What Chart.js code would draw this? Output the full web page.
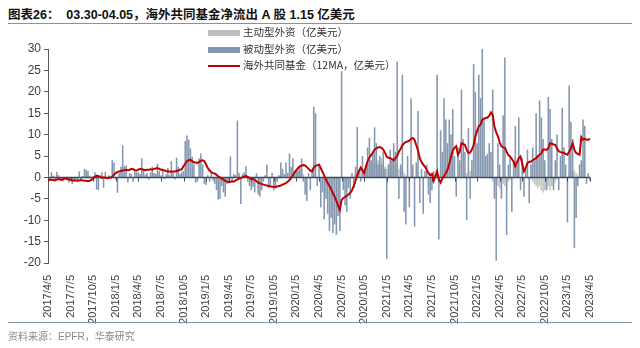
<!DOCTYPE html>
<html>
<head>
<meta charset="utf-8">
<script src="https://cdn.jsdelivr.net/npm/chart.js@4.4.1/dist/chart.umd.min.js"></script>
<style>
  body { margin: 0; width: 640px; height: 348px; background: #fff; position: relative; overflow: hidden;
         font-family: "Liberation Sans", "Noto Sans CJK SC", sans-serif; }
  #title { position: absolute; left: 8px; top: 4px; font-size: 12.5px; font-weight: bold; color: #111; white-space: pre; }
  .rule { position: absolute; left: 8px; width: 624px; height: 1px; background: #8393aa; }
  #source { position: absolute; left: 8px; top: 328px; font-size: 10px; color: #8a8a8a; }
  #chart { position: absolute; left: 0; top: 0; }
  .lg { position: absolute; left: 208px; font-size: 10.5px; color: #333; white-space: nowrap;
        font-family: "Noto Sans CJK SC", "Liberation Sans", sans-serif; line-height: 12px; }
  .lg i { display: inline-block; width: 32px; vertical-align: middle; margin-right: 3px; }
</style>
</head>
<body>
<div id="title">图表26：  03.30-04.05，海外共同基金净流出 A 股 1.15 亿美元</div>
<div class="rule" style="top:23px"></div>
<canvas id="chart" width="640" height="348"></canvas>
<div class="lg" style="top:26px"><i style="height:6px;background:#bfbfbf"></i>主动型外资（亿美元）</div>
<div class="lg" style="top:43px"><i style="height:6px;background:#8497b0"></i>被动型外资（亿美元）</div>
<div class="lg" style="top:59px"><i style="height:2px;background:#c00000"></i>海外共同基金（12MA，亿美元）</div>
<div class="rule" style="top:322px"></div>
<div id="source">资料来源：EPFR，华泰研究</div>

<script>
// 周度数据，2017/4/5 ~ 2023/4/5，每行一个季度（13 周）
const quarterLabels = ['2017/4/5','2017/7/5','2017/10/5','2018/1/5','2018/4/5','2018/7/5','2018/10/5',
  '2019/1/5','2019/4/5','2019/7/5','2019/10/5','2020/1/5','2020/4/5','2020/7/5','2020/10/5',
  '2021/1/5','2021/4/5','2021/7/5','2021/10/5','2022/1/5','2022/4/5','2022/7/5','2022/10/5',
  '2023/1/5','2023/4/5'];

// 被动型外资（亿美元）
const passive = [
  0.5,-0.3,1.2,0.4,-0.5,1.3,0.6,-0.6,-0.4,-0.9,-0.5,-0.7,-1.2,
  -0.5,-1.5,-0.8,-0.3,-1.0,1.4,-0.5,0.3,2.0,1.8,1.5,0.4,-0.6,
  0.3,1.2,-2.8,-3.0,0.5,1.2,-2.4,1.3,-0.4,0.5,0.2,4.0,3.4,
  -0.5,-3.6,1.0,2.5,7.5,2.7,2.8,-1.2,1.0,0.8,-1.0,1.5,1.2,
  1.2,0.8,4.5,2.0,0.6,1.0,-0.5,1.2,2.5,1.0,0.8,3.2,1.5,
  0.5,2.0,-0.4,0.7,2.2,0.5,3.8,1.0,-0.5,4.6,2.5,0.8,1.2,
  1.5,8.5,9.8,8.8,6.8,4.8,3.0,-1.2,-1.0,4.5,5.6,3.0,-1.5,
  -1.8,0.5,-1.0,1.0,-0.8,-1.5,-3.0,-5.2,-5.0,-2.0,-3.5,-4.5,-1.5,
  -1.2,4.9,-1.0,0.8,0.5,13.3,1.0,-6.2,0.8,1.2,2.6,-1.0,-2.0,
  -3.0,-2.2,-3.5,1.0,-4.0,-4.5,-3.0,-1.0,0.5,3.0,-2.5,-2.0,1.0,
  -3.0,-2.0,-1.0,0.5,3.5,2.0,0.8,3.5,1.0,5.6,2.5,4.5,1.5,
  2.0,1.5,2.5,4.4,-1.0,-4.0,-5.5,1.0,-3.0,2.0,16.5,15.0,-2.0,
  2.5,-7.0,-3.5,-9.8,-5.0,-8.5,-12.5,-9.5,-13.0,-11.0,-13.4,-9.0,-12.5,
  24.8,-3.0,-6.5,-8.0,-2.5,-5.0,1.0,-2.5,2.5,11.8,1.5,-1.0,5.0,
  2.0,3.0,7.0,9.2,4.0,6.0,11.7,8.0,3.0,5.0,3.0,6.0,2.0,
  -19.0,3.0,6.5,4.0,8.0,6.0,27.0,-5.0,3.0,24.0,-8.0,-11.0,5.0,
  -7.0,18.5,3.0,-11.5,3.5,15.5,-6.0,2.0,-8.5,1.5,3.0,-4.0,-6.0,
  -3.0,1.5,0.5,24.0,-14.5,11.0,6.0,18.5,13.5,8.0,13.5,10.0,16.0,
  5.0,-4.5,7.0,4.0,20.5,9.0,6.0,-10.0,11.5,-5.0,4.0,26.5,20.0,
  8.0,24.0,18.5,30.5,13.5,5.0,5.5,8.0,6.0,20.5,-5.0,-19.5,8.0,
  3.0,-5.0,14.5,28.0,-13.5,3.0,5.0,-8.0,4.0,12.0,3.0,14.0,-3.0,
  4.5,-4.5,2.0,6.5,-6.0,3.0,7.0,4.0,15.0,5.0,18.0,14.0,9.0,
  4.0,-3.0,18.8,16.0,9.0,-3.0,4.0,10.0,-3.0,5.0,16.2,7.0,3.0,
  -10.5,21.5,13.0,9.0,-16.5,-9.5,-2.0,3.0,4.0,13.5,12.0,-1.5,1.0,
  -0.8
];

// 主动型外资（亿美元）
const active = [
  0,0,0,0,0,0,0,0,0,0,0,0,0,
  0,0,0,0,0,0,0,0,0,0,0,0,0,
  0,0,0,0,0,0,0,0,0,0,0,0,0,
  0,0,0,0,0,0,0,0,0,0,0,0,0,
  0,0,0,0,0,0,0,0,0,0,0,0,0,
  0,0,0,0,0,0,0,0,0,0,0,0,0,
  0,0,0,0,0,0,0,0,0,0,0,0,0,
  0,0,0,0,0,0,0,0,0,0,0,0,0,
  0,0,0,0,0,0,0,0,0,0,0,0,0,
  0,0,0,0,0,0,0,0,0,0,0,0,0,
  0,0,0,0,0,0,0,0,0,0,0,0,0,
  1.5,2.5,1.8,2.0,0.8,0,0,0,0,0,0,0,0,
  0,0,0,0,0,0,0,0,0,0,0,0,0,
  0,0,0,0,0,0,0,0,1.0,1.5,1.5,2.0,1.5,
  1.5,2.5,3.0,3.5,4.0,3.0,4.5,3.5,4.0,3.5,4.5,3.0,2.5,
  2.0,3.0,3.5,4.0,3.0,2.5,3.0,2.0,2.5,1.5,1.0,0.5,0.5,
  0,0,0,0,0,0,0,0,0,0,0,0,0,
  0,0,0,0,0.5,0,0,0,0,0,0,0,0,
  0,0,0,0,0,0,0,1.0,0,1.5,1.0,0,0,
  0,0,0,0,0,0,0,0,0,-1.0,-2.0,-1.5,-2.0,
  -2.5,-3.0,-1.5,-2.0,-2.5,-1.0,-0.5,0,0,0,0,0,0,
  0,0,0,0,0,-0.5,-1.0,-1.5,-2.0,-2.5,-2.0,-3.0,-3.5,
  -3.0,-2.5,-2.0,-3.0,-2.0,-1.5,-1.0,-0.5,0,0,0,0,0,
  0,1.0,1.5,2.0,1.5,1.0,0.5,0,0,0,0,0,0,
  -0.35
];

// 海外共同基金 12 周移动平均（亿美元）
const fundMA = [
  -0.6,-0.6,-0.5,-0.6,-0.7,-0.5,-0.4,-0.5,-0.6,-0.3,-0.2,-0.3,-0.5,
  -0.6,-0.7,-0.8,-0.7,-0.8,-0.7,-0.6,-0.7,-0.8,-0.8,-0.9,-0.8,-0.6,
  -0.3,0.1,0.4,0.3,0.1,-0.1,0.0,-0.1,-0.2,-0.1,-0.1,0.2,0.6,
  1.0,1.3,1.4,1.5,1.6,1.7,1.8,1.7,1.8,2.0,1.9,1.7,1.6,
  1.8,2.0,1.9,1.8,1.7,1.8,1.8,1.9,1.8,2.0,2.1,2.2,2.0,
  1.8,1.8,1.6,1.5,1.4,1.4,1.3,1.4,1.4,1.5,1.6,1.8,1.9,
  2.6,3.2,3.8,4.0,4.1,3.8,3.5,3.5,3.4,3.6,3.9,4.0,3.8,
  3.0,2.2,1.6,1.2,1.0,0.9,0.6,0.2,0.0,-0.3,-0.5,-0.8,-1.0,
  -1.1,-1.0,-0.9,-1.0,-0.7,-0.5,-0.3,-0.1,0.0,0.2,0.3,0.1,-0.1,
  -0.3,-0.4,-0.6,-0.9,-1.2,-1.4,-1.5,-1.7,-1.8,-1.9,-2.0,-2.1,-2.2,
  -2.2,-2.3,-2.1,-2.0,-1.9,-1.7,-1.5,-1.3,-1.0,-0.6,-0.1,0.5,1.2,
  1.7,2.2,2.6,2.8,2.9,2.8,2.4,2.0,1.6,1.4,2.3,2.7,2.8,
  3.0,2.2,1.3,0.4,-0.5,-1.3,-2.0,-2.8,-3.7,-4.5,-5.5,-6.6,-7.6,
  -5.3,-4.8,-4.6,-4.3,-4.0,-3.6,-3.0,-2.0,-0.8,0.5,1.5,2.3,1.6,
  1.0,2.5,3.8,4.6,5.2,5.8,6.5,6.8,7.0,7.1,6.9,6.5,5.8,
  4.8,4.6,4.5,4.3,4.0,4.5,5.0,6.0,6.7,7.5,8.0,8.3,8.4,
  8.6,9.0,9.2,8.8,7.5,6.3,4.5,3.6,3.0,2.5,1.8,1.0,0.5,
  0.8,-0.8,0.3,1.4,-0.5,-1.2,-0.2,0.3,1.0,1.8,3.2,4.8,6.3,
  6.9,7.3,5.3,6.0,8.0,7.8,7.6,6.5,5.7,5.8,6.5,7.5,9.5,
  10.8,12.0,12.3,13.5,13.7,13.9,14.0,14.4,15.2,14.6,11.9,10.5,9.6,
  8.2,7.3,7.0,6.9,6.0,5.2,4.9,4.3,3.7,2.6,3.5,4.5,4.9,
  3.2,1.4,2.2,3.4,3.6,3.7,4.0,4.3,4.5,5.0,5.3,5.6,6.5,
  6.5,6.4,6.8,8.0,7.9,7.7,7.6,6.8,6.1,5.9,5.8,5.7,5.5,
  5.3,6.0,6.8,8.0,6.5,5.7,5.5,5.3,9.4,8.8,9.0,8.8,8.8,
  9.0
];

const weeksPerQuarter = 13;
const weeks = passive.map((_, i) => i);

// 零轴及季度刻度，画在柱子之后、折线之前
const zeroAxis = {
  id: 'zeroAxis',
  afterDatasetDraw(chart, args) {
    if (args.index !== 1) return;
    const { ctx, chartArea, scales: { x, y } } = chart;
    const y0 = Math.round(y.getPixelForValue(0)) + 0.5;
    ctx.save();
    ctx.strokeStyle = '#3f4b5c';
    ctx.lineWidth = 1.5;
    ctx.beginPath();
    ctx.moveTo(chartArea.left, y0);
    ctx.lineTo(chartArea.right, y0);
    ctx.stroke();
    ctx.lineWidth = 1;
    ctx.beginPath();
    quarterLabels.forEach((_, q) => {
      const px = Math.round(x.getPixelForValue(q * weeksPerQuarter)) + 0.5;
      ctx.moveTo(px, y0);
      ctx.lineTo(px, y0 + 4);
    });
    ctx.stroke();
    ctx.restore();
  }
};

new Chart(document.getElementById('chart'), {
  type: 'bar',
  data: {
    labels: weeks,
    datasets: [
      {
        type: 'line',
        label: '海外共同基金（12MA，亿美元）',
        data: fundMA,
        borderColor: '#c00000',
        borderWidth: 2,
        pointRadius: 0,
        tension: 0,
        order: 0
      },
      {
        label: '被动型外资（亿美元）',
        data: passive,
        backgroundColor: '#8497b0',
        grouped: false,
        barPercentage: 0.9,
        categoryPercentage: 1,
        order: 1
      },
      {
        label: '主动型外资（亿美元）',
        data: active,
        backgroundColor: '#c3c3c3',
        grouped: false,
        barPercentage: 0.9,
        categoryPercentage: 1,
        order: 2
      }
    ]
  },
  options: {
    responsive: false,
    animation: false,
    devicePixelRatio: 1,
    layout: { padding: { top: 49, right: 50, bottom: 0, left: 0 } },
    plugins: { legend: { display: false }, tooltip: { enabled: false } },
    scales: {
      x: {
        offset: false,
        grid: { display: false },
        border: { display: false },
        afterBuildTicks(scale) {
          scale.ticks = scale.ticks.filter(t => t.value % weeksPerQuarter === 0);
        },
        afterFit(scale) { scale.height = 85; },
        ticks: {
          autoSkip: false,
          minRotation: 90,
          maxRotation: 90,
          padding: 4,
          color: '#404040',
          font: { family: 'Liberation Sans', size: 11 },
          callback: (value) => quarterLabels[value / weeksPerQuarter]
        }
      },
      y: {
        min: -20,
        max: 30,
        afterFit(scale) { scale.width = 48; },
        grid: { drawOnChartArea: false, drawTicks: true, tickLength: 4, color: '#595959' },
        border: { display: true, color: '#595959' },
        ticks: {
          stepSize: 5,
          padding: 3,
          color: '#404040',
          font: { family: 'Liberation Sans', size: 12 }
        }
      }
    }
  },
  plugins: [zeroAxis]
});
</script>
</body>
</html>
